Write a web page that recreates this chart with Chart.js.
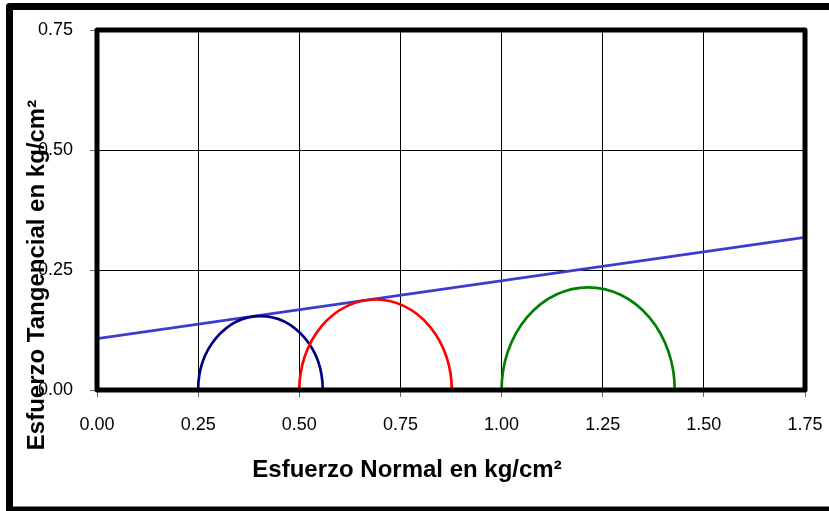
<!DOCTYPE html>
<html>
<head>
<meta charset="utf-8">
<script src="https://cdn.jsdelivr.net/npm/chart.js@4/dist/chart.umd.min.js"></script>
<style>
  html, body { margin: 0; padding: 0; background: #fff; }
  #wrap { position: relative; width: 829px; height: 511px; }
</style>
</head>
<body>
<div id="wrap"><canvas id="c" width="829" height="511"></canvas></div>
<script>
// ---- Data ----
const xTicks = [0, 0.25, 0.5, 0.75, 1.0, 1.25, 1.5, 1.75];
const yTicks = [0, 0.25, 0.5, 0.75];
// Mohr circles: minor and major principal stresses (kg/cm²)
const sigma3 = [0.25, 0.50, 1.00];
const sigma1 = [0.558, 0.877, 1.428];
const circleColors = ['#000080', '#FF0000', '#008000'];
// Failure envelope
const envX = [0, 1.75];
const envY = [0.107, 0.318];

const xTitle = 'Esfuerzo Normal en kg/cm²';
const yTitle = 'Esfuerzo Tangencial en kg/cm²';

const FONT = "'Liberation Sans', Arial, sans-serif";

const mohrPlugin = {
  id: 'mohr',
  afterDatasetsDraw(chart) {
    const { ctx, chartArea: a, scales: { x, y } } = chart;
    ctx.save();
    ctx.beginPath();
    ctx.rect(a.left, a.top, a.right - a.left, a.bottom - a.top);
    ctx.clip();
    for (let i = 0; i < sigma3.length; i++) {
      const c = (sigma3[i] + sigma1[i]) / 2;
      const r = (sigma1[i] - sigma3[i]) / 2;
      const px = x.getPixelForValue(c);
      const py = y.getPixelForValue(0);
      const rx = x.getPixelForValue(c + r) - px;
      const ry = py - y.getPixelForValue(r);
      ctx.beginPath();
      ctx.ellipse(px, py, rx, ry, 0, Math.PI, 2 * Math.PI);
      ctx.strokeStyle = circleColors[i];
      ctx.lineWidth = 2.7;
      ctx.stroke();
    }
    ctx.restore();
    // plot frame
    ctx.save();
    ctx.strokeStyle = '#000';
    ctx.lineWidth = 5;
    ctx.lineJoin = 'round';
    ctx.strokeRect(a.left, a.top, a.right - a.left, a.bottom - a.top);
    ctx.restore();
  },
  afterDraw(chart) {
    const { ctx } = chart;
    ctx.save();
    // outer frame (left, top, bottom)
    ctx.strokeStyle = '#000';
    ctx.lineWidth = 7;
    ctx.lineJoin = 'round';
    ctx.beginPath();
    ctx.moveTo(840, 6.5);
    ctx.lineTo(9.5, 6.5);
    ctx.lineTo(9.5, 510);
    ctx.lineTo(840, 510);
    ctx.stroke();
    // axis titles
    ctx.fillStyle = '#000';
    ctx.font = 'bold 24px ' + FONT;
    ctx.textAlign = 'center';
    ctx.textBaseline = 'middle';
    ctx.fillText(xTitle, 407, 470);
    ctx.translate(37, 275);
    ctx.rotate(-Math.PI / 2);
    ctx.fillText(yTitle, 0, 0);
    ctx.restore();
  }
};

new Chart(document.getElementById('c'), {
  type: 'scatter',
  data: {
    datasets: [{
      label: 'Envolvente',
      data: envX.map((v, i) => ({ x: v, y: envY[i] })),
      showLine: true,
      borderColor: '#3b3bd0',
      borderWidth: 2.7,
      pointRadius: 0,
      pointHoverRadius: 0,
      fill: false
    }]
  },
  options: {
    responsive: false,
    animation: false,
    events: [],
    layout: { padding: { left: 0, top: 30, right: 24, bottom: 0 } },
    plugins: { legend: { display: false }, tooltip: { enabled: false } },
    scales: {
      x: {
        type: 'linear', min: 0, max: 1.75,
        afterBuildTicks(s) { s.ticks = xTicks.map(v => ({ value: v })); },
        afterFit(s) { s.height = 121; s.paddingLeft = 0; s.paddingRight = 0; },
        ticks: {
          color: '#000', font: { family: FONT, size: 18 }, padding: 17.5,
          maxRotation: 0, autoSkip: false,
          callback: v => Number(v).toFixed(2)
        },
        grid: { color: '#000', lineWidth: 1, tickLength: 7, tickColor: '#666' },
        border: { display: false }
      },
      y: {
        type: 'linear', min: 0, max: 0.75,
        afterBuildTicks(s) { s.ticks = yTicks.map(v => ({ value: v })); },
        afterFit(s) { s.width = 97; s.paddingTop = 0; s.paddingBottom = 0; },
        ticks: {
          color: '#000', font: { family: FONT, size: 18 }, padding: 17,
          autoSkip: false,
          callback: v => Number(v).toFixed(2)
        },
        grid: { color: '#000', lineWidth: 1, tickLength: 7, tickColor: '#666' },
        border: { display: false }
      }
    }
  },
  plugins: [mohrPlugin]
});
</script>
</body>
</html>
